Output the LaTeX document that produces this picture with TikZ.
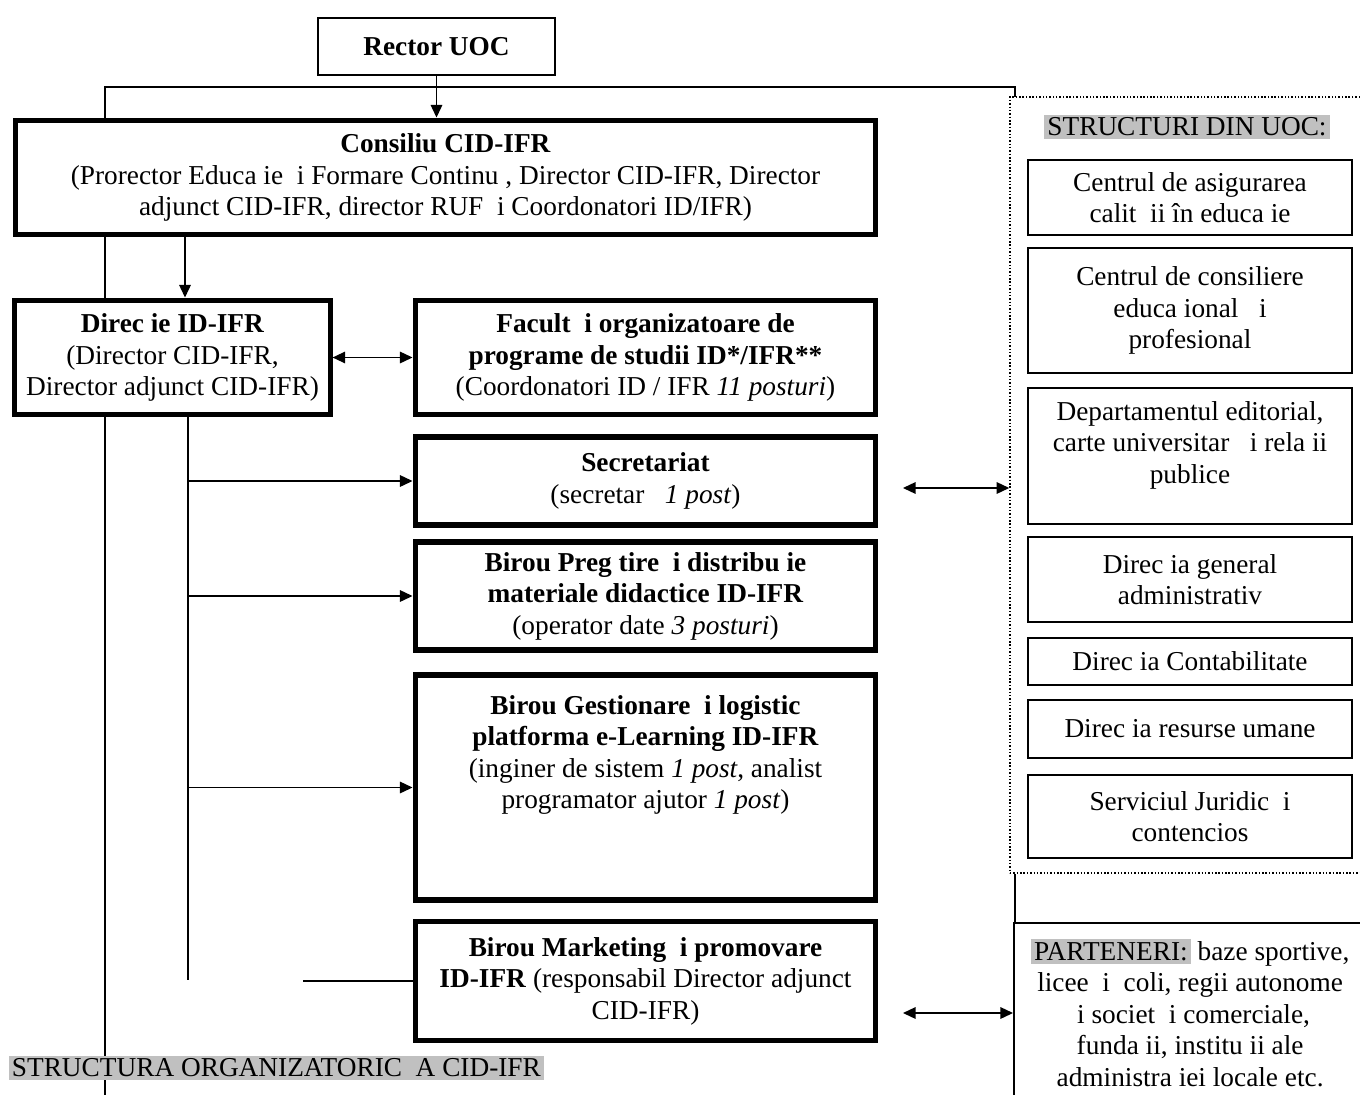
\documentclass[tikz,border=0pt]{standalone}
\usepackage{fontspec}
\setmainfont{Liberation Serif}
\usetikzlibrary{arrows.meta}
\definecolor{hlgray}{RGB}{192,192,192}
\setlength{\fboxsep}{1.5pt}

\tikzset{
	bigbox/.style={draw, line width=2.4pt, fill=white, align=center, inner sep=0pt, minimum width=219.4pt},
	smallbox/.style={draw, line width=1pt, fill=white, align=center, inner sep=0pt, minimum width=154.2pt},
	hl/.style={fill=hlgray, inner sep=1.5pt},
}

\begin{document}
\begin{tikzpicture}[x=0.476pt, y=-0.476pt, line width=0.7pt,
		>={Triangle[length=6pt,width=5.5pt]},
		every node/.style={font=\fontsize{13pt}{15pt}\selectfont}]
	\useasboundingbox (0,0) rectangle (1360,1095);
	\clip (0,0) rectangle (1360,1095);

	\coordinate (spineB) at (105,1095);
	\coordinate (spineT) at (1015,87);
	\coordinate (spineE) at (1015,97);
	\draw (spineB) |- (spineT) -- (spineE);

	\node[smallbox, line width=1.3pt, minimum width=112.8pt, minimum height=27.1pt] (rector) at (436.5,46.5) {\textbf{Rector UOC}};
	\node[bigbox, minimum width=409.8pt, minimum height=54.7pt] (cons) at (445.5,177.5)
		{\textbf{Consiliu CID-IFR}\\(Prorector Educa~ie~~i Formare Continu~, Director CID-IFR, Director\\adjunct CID-IFR, director RUF~~i Coordonatori ID/IFR)};
	\node[bigbox, minimum width=150pt, minimum height=54.7pt] (dir) at (172.5,357.5)
		{\textbf{Direc~ie ID-IFR}\\(Director CID-IFR,\\Director adjunct CID-IFR)};
	\node[bigbox, minimum height=54.7pt] (fac) at (645.5,357.5)
		{\textbf{Facult~~i organizatoare de}\\\textbf{programe de studii ID*/IFR**}\\(Coordonatori ID / IFR \textit{11 posturi})};
	\node[bigbox, minimum height=41.9pt] (sec) at (645.5,481)
		{\textbf{Secretariat}\\(secretar~~~\textit{1 post})};
	\node[bigbox, minimum height=51.4pt] (prep) at (645.5,596)
		{\textbf{Birou Preg~tire~~i distribu~ie}\\\textbf{materiale didactice ID-IFR}\\(operator date \textit{3 posturi})};
	\node[bigbox, minimum height=107.1pt] (gest) at (645.5,787.5)
		{\textbf{Birou Gestionare~~i logistic~}\\\textbf{platforma e-Learning ID-IFR}\\(inginer de sistem \textit{1 post}, analist\\programator ajutor \textit{1 post})\\[19pt]\mbox{}};
	\node[bigbox, minimum height=56.2pt] (mkt) at (645.5,981)
		{\textbf{Birou Marketing~~i promovare}\\\textbf{ID-IFR} (responsabil Director adjunct\\CID-IFR)};

	\node[draw, line width=0.7pt, dash pattern=on 0.7pt off 0.9pt, minimum width=169pt, minimum height=369.4pt] (uoc) at (1187.5,485) {};
	\node[hl] (uochead) at (1187,127) {STRUCTURI DIN UOC:};
	\node[smallbox, minimum height=35.7pt] (calit) at (1190,197.5) {Centrul de asigurarea\\calit~~ii în educa~ie};
	\node[smallbox, minimum height=59.5pt] (consil) at (1190,310.5) {Centrul de consiliere\\educa~ional~~~i\\profesional~};
	\node[smallbox, minimum height=64.7pt] (edit) at (1190,456) {Departamentul editorial,\\carte universitar~~~i rela~ii\\publice\\[-2pt]\mbox{}};
	\node[smallbox, minimum height=40.5pt] (admin) at (1190,579.5) {Direc~ia general~\\administrativ~};
	\node[smallbox, minimum height=22.4pt] (contab) at (1190,661.5) {Direc~ia Contabilitate};
	\node[smallbox, minimum height=27.6pt] (rumane) at (1190,729) {Direc~ia resurse umane};
	\node[smallbox, minimum height=39.5pt] (jurid) at (1190,816.5) {Serviciul Juridic~~i\\contencios};

	\node[draw, line width=1pt, anchor=north west, align=center, inner sep=0pt, minimum width=167.6pt, minimum height=85.7pt] (part) at (1013,922)
		{\colorbox{hlgray}{PARTENERI:} baze sportive,\\licee~~i~~coli, regii autonome\\~i societ~~i comerciale,\\funda~ii, institu~ii ale\\administra~iei locale etc.};

	\node[hl, anchor=west] (title) at (8,1068) {STRUCTURA ORGANIZATORIC~~A CID-IFR};

	\draw[->] (rector.south) -- (rector.south |- cons.north);
	\coordinate (consX) at (185,0);
	\draw[->] (cons.south -| consX) -- (dir.north -| consX);
	\draw[<->] (dir) -- (fac);
	\coordinate (trunk) at (188,980);
	\draw (dir.south -| trunk) -- (trunk);
	\draw[->] (trunk |- sec) -- (sec);
	\draw[->] (trunk |- prep) -- (prep);
	\draw[->] (trunk |- gest) -- (gest);
	\coordinate (mktL) at (303,981);
	\draw (mktL) -- (mkt);
	\coordinate (secR) at (903,488);
	\draw[<->] (secR) -- (secR -| uoc.west);
	\coordinate (partL) at (903,1013);
	\draw[<->] (partL) -- (partL -| part.west);
	\coordinate (linkX) at (1015,0);
	\draw (uoc.south -| linkX) -- (part.north -| linkX);
\end{tikzpicture}
\end{document}
